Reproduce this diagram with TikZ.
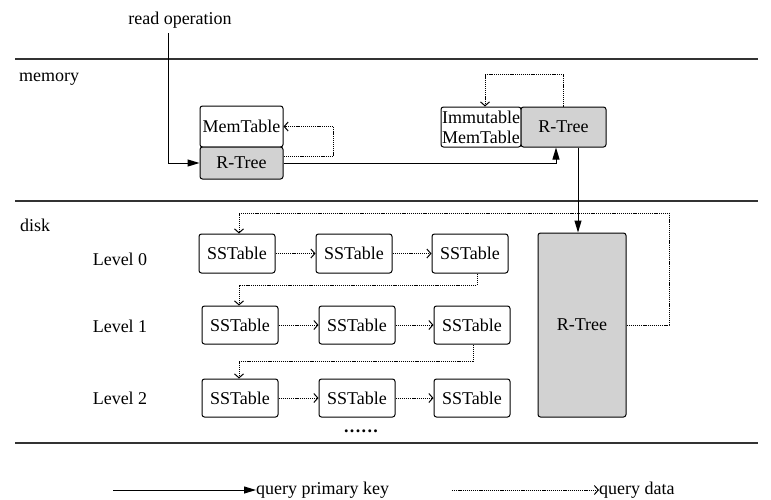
\documentclass[tikz,border=0pt]{standalone}
\usepackage{fontspec}
\setmainfont{Liberation Serif}
\newfontfamily\labelfont{Liberation Serif}
\usetikzlibrary{arrows.meta}
\definecolor{treegray}{RGB}{210,210,210}
\begin{document}
\begin{tikzpicture}[x=1pt,y=-1pt,
  font=\labelfont\fontsize{18}{19}\selectfont,
  box/.style={draw, line width=1pt, rounded corners=2.5pt, inner sep=0pt, minimum width=76pt, minimum height=39pt},
  tree/.style={box, fill=treegray},
  level/.style={inner sep=0pt, anchor=center},
  sep/.style={line width=1.3pt, black!80},
  key/.style={line width=1pt, -{Triangle[length=12pt,width=7pt]}},
  data/.style={line width=1pt, dash pattern=on 1.2pt off 0.9pt, -{Straight Barb[length=4pt,width=9pt,line width=1pt]}},
]
\useasboundingbox (0,0) rectangle (771,499);

% section separators
\draw[sep] (15,59) -- (758,59);
\draw[sep] (15,201) -- (758,201);
\draw[sep] (15,443) -- (758,443);

\node[inner sep=0pt] (readop) at (180,20) {read operation};
\coordinate (readstart) at (168,33);
\node[inner sep=0pt, anchor=west] (memlbl) at (19,79) {memory};
\node[inner sep=0pt, anchor=west] (disklbl) at (20,225) {disk};

% memory components
\node[box, minimum width=83pt, minimum height=41pt] (mt) at (241.5,126.5) {MemTable};
\node[tree, minimum width=83pt, minimum height=32pt] (rt1) at (241.5,163) {R-Tree};
\node[box, minimum width=80pt, minimum height=40pt, align=left, font=\labelfont\fontsize{18}{20}\selectfont] (imm) at (481,127) {Immutable\\MemTable};
\node[tree, minimum width=85pt, minimum height=40pt] (rt2) at (563.5,127) {R-Tree};

% disk components
\node[tree, minimum width=88pt, minimum height=184pt] (big) at (582,325) {R-Tree};

\node[level] (l0) at (120,259) {Level 0};
\node[level] (l1) at (120,326) {Level 1};
\node[level] (l2) at (120,398) {Level 2};

\node[box] (a1) at (237,253.5) {SSTable};
\node[box] (a2) at (354,253.5) {SSTable};
\node[box] (a3) at (470,253.5) {SSTable};
\node[box, minimum height=38pt] (b1) at (240,325) {SSTable};
\node[box, minimum height=38pt] (b2) at (357,325) {SSTable};
\node[box, minimum height=38pt] (b3) at (472,325) {SSTable};
\node[box, minimum height=38pt] (c1) at (240,398) {SSTable};
\node[box, minimum height=38pt] (c2) at (357,398) {SSTable};
\node[box, minimum height=38pt] (c3) at (472,398) {SSTable};

\node[inner sep=0pt] (more) at (361,431) {\bfseries.\kern1.4pt.\kern1.4pt.\kern1.4pt.\kern1.4pt.\kern1.4pt.};

% primary key path
\draw[key] (readstart) |- (rt1.west);
\draw[key] (rt1.east) -| ([xshift=-7.5pt]rt2.south);
\draw[key] ([xshift=14.5pt]rt2.south) -- ([xshift=14.5pt]rt2.south |- big.north);

% data path in memory
\draw[data] ([yshift=7pt]rt1.east) -- ++(50,0) |- (mt.east);
\draw[data] (rt2.north) -- ++(0,-32) -| ([xshift=4pt]imm.north);

% data path on disk
\coordinate (turn) at (669,213);
\draw[data] (big.east) -| (turn) -| ([xshift=2pt]a1.north);
\draw[data] (a1) -- (a2);
\draw[data] (a2) -- (a3);
\draw[data] ([xshift=7pt]a3.south) -- ++(0,12) -| ([xshift=-1pt]b1.north);
\draw[data] (b1) -- (b2);
\draw[data] (b2) -- (b3);
\draw[data] ([xshift=1pt]b3.south) -- ++(0,17) -| ([xshift=-1pt]c1.north);
\draw[data] (c1) -- (c2);
\draw[data] (c2) -- (c3);

% legend
\coordinate (k1) at (113,490);
\node[inner sep=0pt, anchor=west] (ktext) at (256,490) {query primary key};
\draw[key] (k1) -- (ktext.west);
\coordinate (d1) at (452,490);
\node[inner sep=0pt, anchor=west] (dtext) at (599,490) {query data};
\draw[data] (d1) -- (dtext.west);
\end{tikzpicture}
\end{document}
